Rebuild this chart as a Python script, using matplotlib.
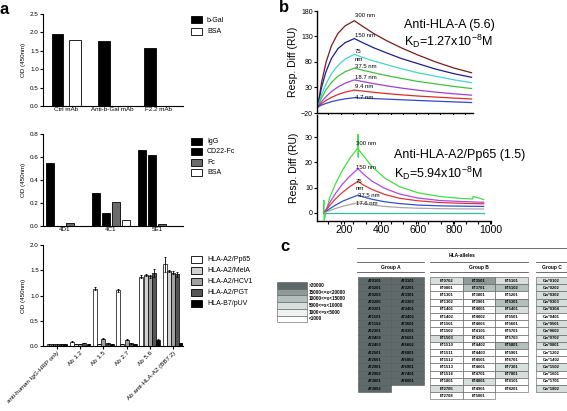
import matplotlib
matplotlib.use('Agg')
import matplotlib.pyplot as plt
from matplotlib.patches import Rectangle
import numpy as np

plt.rcParams['font.family'] = ['Liberation Sans', 'DejaVu Sans']

# ---------------- data ----------------
# panel a, top
a1_groups = ['Ctrl mAb', 'Anti-b-Gal mAb', 'F2.2 mAb']
a1_series = ['b-Gal', 'BSA']
a1_bgal = [1.97, 1.77, 1.57]
a1_bsa = [1.78, 0.01, 0.01]

# panel a, middle
a2_groups = ['4D1', '4C1', '5E1']
a2_series = ['IgG', 'CD22-Fc', 'Fc', 'BSA']
a2_igg = [0.55, 0.29, 0.66]
a2_cd22 = [0.0, 0.115, 0.62]
a2_fc = [0.03, 0.21, 0.015]
a2_bsa = [0.0, 0.055, 0.0]

# panel a, bottom
a3_groups = ['anti-human IgG-HRP only', 'Ab 1.2', 'Ab 1.5', 'Ab 2.7', 'Ab 5.6',
             'Ab anti-HLA-A2 (BB7.2)']
a3_series = ['HLA-A2/Pp65', 'HLA-A2/MelA', 'HLA-A2/HCV1', 'HLA-A2/PGT', 'HLA-B7/pUV']
a3_pp65 = [0.03, 0.08, 1.13, 1.10, 1.37, 1.62]
a3_mela = [0.03, 0.04, 0.04, 0.04, 1.40, 1.48]
a3_hcv1 = [0.03, 0.04, 0.14, 0.12, 1.38, 1.45]
a3_pgt = [0.03, 0.06, 0.05, 0.05, 1.45, 1.42]
a3_b7 = [0.03, 0.04, 0.04, 0.04, 0.12, 0.05]
a3_pp65_err = [0.005, 0.01, 0.03, 0.03, 0.03, 0.15]
a3_mela_err = [0.005, 0.005, 0.005, 0.005, 0.02, 0.02]
a3_hcv1_err = [0.005, 0.005, 0.01, 0.01, 0.03, 0.03]
a3_pgt_err = [0.005, 0.005, 0.005, 0.005, 0.08, 0.05]
a3_b7_err = [0.005, 0.005, 0.005, 0.005, 0.01, 0.01]

# panel b, top (Anti-HLA-A 5.6)
b1_time = [55, 75, 100, 130, 165, 205, 255, 300, 360, 430, 510, 600, 700, 800, 895]
b1_300 = [-8, 38, 79, 112, 136, 151, 161, 150, 136, 122, 108, 94, 80, 68, 59]
b1_150 = [-8, 29, 61, 87, 106, 118, 126, 118, 108, 98, 87, 77, 66, 57, 50]
b1_75 = [-8, 15, 37, 57, 73, 86, 95, 89, 82, 75, 67, 59, 52, 45, 39.5]
b1_37 = [-8, 9, 25, 40, 52, 61, 68, 64, 59, 53.5, 48, 42, 37, 32, 28]
b1_18 = [-8, 1.8, 12, 22, 31, 38.4, 45, 41.7, 37.6, 33.3, 29, 24.8, 20.9, 17.6, 15]
b1_9 = [-8, -1.9, 4.5, 10.6, 16.2, 20.9, 25, 23, 20.6, 18.1, 15.7, 13.3, 11.2, 9.2, 7.5]
b1_4 = [-8, -4.7, -1.2, 2.2, 5.2, 7.8, 10, 9.3, 8.3, 7.2, 6, 4.6, 3.2, 1.8, 0.5]
b1_labels = ['300 nm', '150 nm', '75', 'nm', '37.5 nm', '18.7 nm', '9.4 nm', '4.7 nm']
b1_label_y = [172, 131, 100, 84, 72, 50, 31, 10]

# panel b, bottom (Anti-HLA-A2/Pp65 1.5)
b2_time_300 = [86, 88, 90, 120, 150, 190, 230, 272, 274, 276, 278, 300, 350, 420, 500,
               600, 720, 840, 900, 902, 960]
b2_300 = [0, 5, -3, 6, 11.2, 16.9, 21.6, 25.5, 31, 22, 25, 23, 18.4, 13.8, 10.4,
          8, 6.5, 5.7, 5.5, 6.5, 5.3]
b2_time = [90, 120, 150, 190, 230, 275, 300, 350, 420, 500, 600, 720, 840, 960]
b2_150 = [0, 4, 7.5, 11.4, 14.5, 17.5, 15.6, 12.6, 9.7, 7.5, 5.9, 4.9, 4.5, 4.2]
b2_75 = [0, 2.9, 5.4, 8.1, 10.4, 12.5, 11.2, 9.3, 7.3, 5.8, 4.8, 4.1, 3.8, 3.6]
b2_37 = [0, 1.6, 3, 4.6, 5.8, 7, 6.4, 5.4, 4.4, 3.7, 3.1, 2.8, 2.65, 2.57]
b2_17 = [0, 0.9, 1.7, 2.6, 3.3, 4, 3.65, 3.1, 2.55, 2.15, 1.85, 1.68, 1.59, 1.54]
b2_zero = [0, 0, 0, 0, 0, 0, 0, 0, 0, 0, 0, 0, 0, 0]
b2_labels = ['300 nm', '150 nm', '75', 'nm', '37.5 nm', '17.6 nm']
b2_label_y = [27.5, 18.0, 12.6, 9.6, 6.9, 3.9]
b2_label_x = [262, 262, 262, 262, 276, 262]

# panel c
level_labels = ['>20000', '15000<=x<20000', '10000<=x<15000', '5000<=x<10000',
                '1000<=x<5000', '<1000']
groupA_col1 = ['A*0101', 'A*0201', 'A*0203', 'A*0206', 'A*0301', 'A*1101', 'A*1102',
               'A*2301', 'A*2402', 'A*2403', 'A*2501', 'A*2601', 'A*2901', 'A*2902',
               'A*3001', 'A*3002']
groupA_col2 = ['A*3101', 'A*3201', 'A*3301', 'A*3303', 'A*3401', 'A*3402', 'A*3601',
               'A*4301', 'A*6601', 'A*6602', 'A*6801', 'A*6802', 'A*6901', 'A*7401',
               'A*8001']
groupA_col1_lv = [5] * 16
groupA_col2_lv = [5] * 15
groupB_col1 = ['B*0702', 'B*0801', 'B*1301', 'B*1302', 'B*1401', 'B*1402', 'B*1501',
               'B*1502', 'B*1503', 'B*1510', 'B*1511', 'B*1512', 'B*1513', 'B*1516',
               'B*1801', 'B*2705', 'B*2708']
groupB_col1_lv = [2, 0, 0, 0, 0, 0, 0, 0, 2, 0, 0, 0, 0, 0, 0, 2, 0]
groupB_col2 = ['B*3501', 'B*3701', 'B*3801', 'B*3901', 'B*4001', 'B*4002', 'B*4006',
               'B*4101', 'B*4201', 'B*4402', 'B*4403', 'B*4501', 'B*4601', 'B*4701',
               'B*4801', 'B*4901', 'B*5001']
groupB_col2_lv = [4, 3, 0, 0, 0, 0, 0, 0, 0, 0, 0, 0, 0, 0, 2, 0, 0]
groupB_col3 = ['B*5101', 'B*5102', 'B*5201', 'B*5301', 'B*5401', 'B*5501', 'B*5601',
               'B*5701', 'B*5703', 'B*5801', 'B*5901', 'B*6701', 'B*7301', 'B*7801',
               'B*8101', 'B*8201']
groupB_col3_lv = [2, 3, 0, 3, 2, 0, 0, 0, 0, 3, 0, 0, 2, 2, 0, 0]
groupC_col1 = ['Cw*0102', 'Cw*0202', 'Cw*0302', 'Cw*0303', 'Cw*0304', 'Cw*0401',
               'Cw*0501', 'Cw*0602', 'Cw*0702', 'Cw*0801', 'Cw*1202', 'Cw*1402',
               'Cw*1502', 'Cw*1601', 'Cw*1701', 'Cw*1802']
groupC_col1_lv = [2, 2, 2, 2, 2, 0, 2, 2, 2, 2, 0, 0, 2, 0, 0, 2]

# ---------------- figure ----------------
W, H = 567, 411
fig = plt.figure(figsize=(W / 100, H / 100), dpi=100)


def px_axes(l, t, r, b):
    return fig.add_axes([l / W, 1 - b / H, (r - l) / W, (b - t) / H])


def style_prism(ax, fs=4.5):
    for s in ['top', 'right']:
        ax.spines[s].set_visible(False)
    for s in ['left', 'bottom']:
        ax.spines[s].set_linewidth(0.8)
    ax.tick_params(direction='out', length=2, width=0.8, labelsize=fs, pad=1)


# ---- a top ----
ax1 = px_axes(43, 14, 183, 106)
x = np.arange(len(a1_groups))
ax1.bar(x - 0.185, a1_bgal, 0.26, color='black', edgecolor='black', lw=0.6)
ax1.bar(x + 0.185, a1_bsa, 0.26, color='white', edgecolor='black', lw=0.6)
ax1.set_ylim(0, 2.5)
ax1.set_xlim(-0.5, 2.54)
ax1.set_yticks([0, 0.5, 1.0, 1.5, 2.0, 2.5])
ax1.set_yticklabels(['0.0', '0.5', '1.0', '1.5', '2.0', '2.5'])
ax1.set_xticks(x)
ax1.set_xticklabels(a1_groups)
style_prism(ax1)
ax1.tick_params(axis='x', length=0)
ax1.set_ylabel('OD (450nm)', fontsize=4.5, labelpad=3)

# ---- a middle ----
ax2 = px_axes(43, 134, 183, 226)
x = np.arange(len(a2_groups))
wd = 0.163
offs = [-0.326, -0.109, 0.109, 0.326]
cols2 = ['black', 'black', '#6b6b6b', 'white']
for o, vals, c in zip(offs, [a2_igg, a2_cd22, a2_fc, a2_bsa], cols2):
    ax2.bar(x + o, vals, wd, color=c, edgecolor='black', lw=0.6)
ax2.set_ylim(0, 0.8)
ax2.set_xlim(-0.478, 2.565)
ax2.set_yticks([0, 0.2, 0.4, 0.6, 0.8])
ax2.set_yticklabels(['0.0', '0.2', '0.4', '0.6', '0.8'])
ax2.set_xticks(x)
ax2.set_xticklabels(a2_groups)
style_prism(ax2)
ax2.tick_params(axis='x', length=0)
ax2.set_ylabel('OD (450nm)', fontsize=4.5, labelpad=3)

# ---- a bottom ----
ax3 = px_axes(43, 245, 183, 346)
x = np.arange(len(a3_groups))
wd = 0.17
offs3 = [-0.36, -0.18, 0.0, 0.18, 0.36]
cols3 = ['white', '#d2d2d2', '#a0a0a0', '#555555', 'black']
vals3 = [a3_pp65, a3_mela, a3_hcv1, a3_pgt, a3_b7]
errs3 = [a3_pp65_err, a3_mela_err, a3_hcv1_err, a3_pgt_err, a3_b7_err]
for o, vals, err, c in zip(offs3, vals3, errs3, cols3):
    ax3.bar(x + o, vals, wd, color=c, edgecolor='black', lw=0.5,
            yerr=err, error_kw=dict(elinewidth=0.6, capsize=1.0, capthick=0.6,
                                    ecolor='black'))
ax3.set_ylim(0, 2.0)
ax3.set_xlim(-0.6, 5.43)
ax3.set_yticks([0, 0.5, 1.0, 1.5, 2.0])
ax3.set_yticklabels(['0.0', '0.5', '1.0', '1.5', '2.0'])
ax3.set_xticks(x)
ax3.set_xticklabels(a3_groups, rotation=45, ha='right', rotation_mode='anchor')
style_prism(ax3)
ax3.tick_params(axis='x', length=2)
ax3.set_ylabel('OD (450nm)', fontsize=4.5, labelpad=3)

# ---- overlay axes in pixel coordinates ----
ov2 = fig.add_axes([0, 0, 1, 1], zorder=5)
ov2.set_xlim(0, W)
ov2.set_ylim(H, 0)
ov2.axis('off')
ov2.patch.set_alpha(0)


def legend_items(labels, colors, y0, dy, xs=191, fs=5):
    for i, (lab, c) in enumerate(zip(labels, colors)):
        yc = y0 + i * dy
        ov2.add_patch(Rectangle((xs, yc - 3.5), 11, 7, facecolor=c,
                                edgecolor='black', lw=0.6))
        ov2.text(xs + 16, yc, lab, fontsize=fs, va='center', ha='left')


legend_items(a1_series, ['black', 'white'], 20, 11.5)
legend_items(a2_series, ['black', 'black', '#6b6b6b', 'white'], 141, 10.6)
legend_items(a3_series, cols3, 259, 11)

ov2.text(4, 10, 'a', fontsize=12, fontweight='bold', ha='center', va='center')
ov2.text(284, 7, 'b', fontsize=12, fontweight='bold', ha='center', va='center')
ov2.text(285, 246, 'c', fontsize=12, fontweight='bold', ha='center', va='center')

# ---- b top ----
bx1 = px_axes(317, 11, 473, 113)
b1_colors = ['#7a1a1a', '#1c1c9c', '#3fd9c4', '#3cc43c', '#a040d8', '#e02a2a', '#2a4ad0']
for vals, c in zip([b1_300, b1_150, b1_75, b1_37, b1_18, b1_9, b1_4], b1_colors):
    bx1.plot(b1_time, vals, color=c, lw=0.9)
bx1.set_xlim(51, 903)
bx1.set_ylim(-20, 180)
bx1.set_yticks([-20, 30, 80, 130, 180])
bx1.set_xticks(np.arange(113, 900, 68))
bx1.set_xticklabels([])
style_prism(bx1, fs=5)
bx1.spines['left'].set_linewidth(1.0)
bx1.spines['bottom'].set_linewidth(1.0)
bx1.set_ylabel('Resp. Diff (RU)', fontsize=7.5, labelpad=2)
for lab, yy in zip(b1_labels, b1_label_y):
    bx1.text(258, yy, lab, fontsize=4.3, ha='left', va='center')
bx1.text(0.56, 0.86, 'Anti-HLA-A (5.6)', transform=bx1.transAxes, fontsize=9,
         ha='left', va='center')
bx1.text(0.56, 0.70, r'K$_\mathregular{D}$=1.27x10$^\mathregular{-8}$M',
         transform=bx1.transAxes, fontsize=9, ha='left', va='center')

# ---- b bottom ----
bx2 = px_axes(317, 115, 491, 221)
b2_colors = ['#40e040', '#b048e0', '#e03535', '#3050d0', '#a8a8a8']
bx2.plot(b2_time, b2_zero, color='#30c0a0', lw=0.9)
bx2.plot(b2_time_300, b2_300, color=b2_colors[0], lw=0.9)
for vals, c in zip([b2_150, b2_75, b2_37, b2_17], b2_colors[1:]):
    bx2.plot(b2_time, vals, color=c, lw=0.9)
bx2.set_xlim(51, 1000)
bx2.set_ylim(-3.2, 38.7)
bx2.set_yticks([0, 10, 20, 30])
bx2.set_xticks([200, 400, 600, 800, 1000])
bx2.set_xticks(np.arange(113, 1000, 68), minor=True)
style_prism(bx2, fs=5)
bx2.tick_params(axis='x', which='major', labelsize=7.5, length=2)
bx2.tick_params(axis='x', which='minor', length=2, width=0.8, direction='out')
bx2.spines['left'].set_linewidth(1.0)
bx2.spines['bottom'].set_linewidth(1.0)
bx2.set_ylabel('Resp. Diff (RU)', fontsize=7.5, labelpad=4)
for lab, xx, yy in zip(b2_labels, b2_label_x, b2_label_y):
    bx2.text(xx, yy, lab, fontsize=4.3, ha='left', va='center')
bx2.text(0.44, 0.62, 'Anti-HLA-A2/Pp65 (1.5)', transform=bx2.transAxes,
         fontsize=9, ha='left', va='center')
bx2.text(0.44, 0.45, r'K$_\mathregular{D}$=5.94x10$^\mathregular{-8}$M',
         transform=bx2.transAxes, fontsize=9, ha='left', va='center')

# ---- c table ----
level_colors = ['white', '#eef2f0', '#d6dfdc', '#b3bfbc', '#8e9a98', '#5e6a6a']
legend_order = [5, 4, 3, 2, 1, 0]
for i, (lv, lab) in enumerate(zip(legend_order, level_labels)):
    yy = 282 + i * 6.7
    ov2.add_patch(Rectangle((277, yy), 30, 6.7, facecolor=level_colors[lv],
                            edgecolor='#555555', lw=0.4))
    ov2.text(309, yy + 3.4, lab, fontsize=3.3, va='center', ha='left',
             fontweight='bold')

row_top = 277
row_h = 7.2


def draw_col(x0, w, names, levels):
    for i, (nm, lv) in enumerate(zip(names, levels)):
        yy = row_top + i * row_h
        ov2.add_patch(Rectangle((x0, yy), w, row_h, facecolor=level_colors[lv],
                                edgecolor='#555555', lw=0.4))
        ov2.text(x0 + w / 2, yy + row_h / 2, nm, fontsize=3.0, ha='center',
                 va='center', fontweight='bold', color='black')


draw_col(358, 33, groupA_col1, groupA_col1_lv)
draw_col(391, 33, groupA_col2, groupA_col2_lv)
draw_col(430, 32.7, groupB_col1, groupB_col1_lv)
draw_col(462.7, 32.7, groupB_col2, groupB_col2_lv)
draw_col(495.4, 32.7, groupB_col3, groupB_col3_lv)
draw_col(536, 31, groupC_col1, groupC_col1_lv)

ov2.plot([357, 567], [248, 248], color='#555555', lw=0.6)
ov2.text(462, 255, 'HLA-alleles', fontsize=3.5, ha='center', va='center',
         fontweight='bold')
for (x0, x1, name) in [(357, 424, 'Group A'), (430, 528, 'Group B'),
                       (536, 567, 'Group C')]:
    ov2.plot([x0, x1], [262, 262], color='#555555', lw=0.6)
    ov2.plot([x0, x1], [272, 272], color='#555555', lw=0.6)
    ov2.text((x0 + x1) / 2 if name != 'Group C' else 552, 267.5, name,
             fontsize=3.5, ha='center', va='center', fontweight='bold')

fig.savefig('out.png', dpi=100)
